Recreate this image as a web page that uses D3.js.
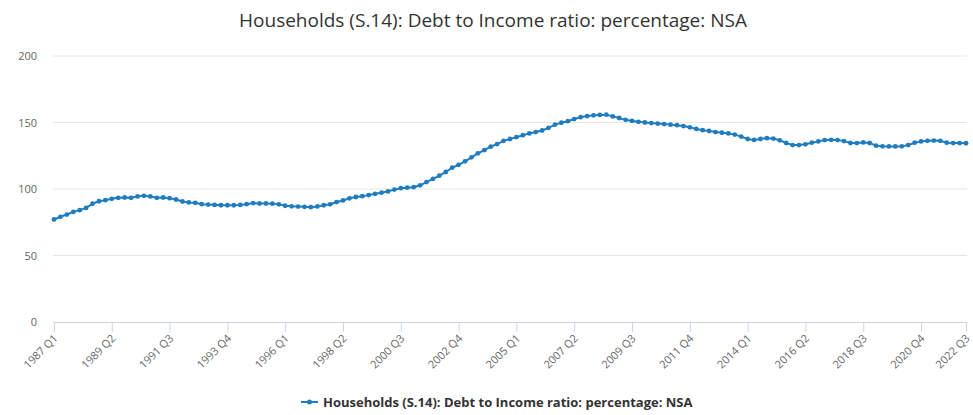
<!DOCTYPE html>
<html>
<head>
<meta charset="utf-8">
<script src="https://cdn.jsdelivr.net/npm/d3@7"></script>
<style>
  html, body { margin: 0; padding: 0; background: #fff; }
  svg { display: block; font-family: "Open Sans", "Noto Sans", sans-serif; }
</style>
</head>
<body>
<svg id="chart" width="973" height="415"></svg>
<script>
// Households (S.14): debt to income ratio, quarterly, 1987 Q1 – 2022 Q3
const firstYear = 1987;
const lastYear = 2022;
const lastQuarter = 3;

const seriesName = "Households (S.14): Debt to Income ratio: percentage: NSA";

const values = [
  77.1, 79.1, 80.8, 82.8, 84.1, 85.8, 88.9, 90.8, 91.6, 92.6,
  93.4, 93.6, 93.4, 94.4, 94.9, 94.4, 93.4, 93.6, 93.1, 92.1,
  90.6, 89.9, 89.6, 88.6, 88.3, 88.0, 87.8, 87.8, 87.8, 88.0,
  88.6, 89.4, 89.1, 89.1, 89.0, 88.5, 87.4, 87.0, 86.8, 86.6,
  86.3, 86.9, 87.8, 88.5, 90.2, 91.4, 93.0, 94.0, 94.6, 95.4,
  96.4, 97.2, 98.2, 99.6, 100.6, 101.0, 101.4, 102.8, 105.2, 107.6,
  110.0, 112.8, 116.0, 118.2, 120.8, 123.8, 126.8, 129.2, 131.8, 133.8,
  136.2, 137.6, 139.0, 140.4, 141.8, 142.8, 144.0, 146.0, 148.4, 149.8,
  151.0, 152.6, 154.0, 154.8, 155.4, 155.7, 155.9, 154.6, 153.4, 152.0,
  151.2, 150.5, 150.0, 149.6, 149.2, 148.8, 148.4, 148.0, 147.3, 146.4,
  145.2, 144.2, 143.6, 142.8, 142.3, 141.8, 140.9, 139.4, 137.6, 136.9,
  137.6, 138.2, 137.9, 136.6, 134.6, 133.0, 133.0, 133.6, 134.8, 135.8,
  136.8, 137.0, 136.8, 136.0, 134.6, 134.5, 135.0, 134.6, 132.6, 132.1,
  132.0, 132.0, 132.1, 133.0, 134.8, 135.8, 136.2, 136.4, 136.2, 134.8,
  134.5, 134.5, 134.4
];

const tickLabels = [
  "1987 Q1", "1989 Q2", "1991 Q3", "1993 Q4", "1996 Q1", "1998 Q2",
  "2000 Q3", "2002 Q4", "2005 Q1", "2007 Q2", "2009 Q3", "2011 Q4",
  "2014 Q1", "2016 Q2", "2018 Q3", "2020 Q4", "2022 Q3"
];

const yTicks = [0, 50, 100, 150, 200];

// quarter labels for every observation
const quarters = [];
for (let y = firstYear; y <= lastYear; y++) {
  for (let q = 1; q <= 4; q++) {
    if (y === lastYear && q > lastQuarter) break;
    quarters.push(y + " Q" + q);
  }
}
const data = quarters.map((q, i) => ({ q, v: values[i] }));

const svg = d3.select("#chart");
const lineColor = "#1f7cc0";
const labelColor = "#666666";

const x = d3.scalePoint().domain(quarters).range([54, 966]);
const y = d3.scaleLinear().domain([0, 200]).range([322, 56]);

// title
svg.append("text")
  .attr("x", 493).attr("y", 27)
  .attr("text-anchor", "middle")
  .attr("font-size", 19)
  .attr("fill", "#333")
  .text(seriesName);

// horizontal grid
svg.append("g")
  .selectAll("line")
  .data(yTicks.filter(t => t > 0))
  .join("line")
  .attr("x1", 53).attr("x2", 967)
  .attr("y1", d => y(d)).attr("y2", d => y(d))
  .attr("stroke", "#e6e6e6").attr("stroke-width", 1);

// y axis labels
const yAxis = d3.axisLeft(y).tickValues(yTicks).tickSize(0).tickPadding(0);
svg.append("g")
  .attr("transform", "translate(37,0)")
  .call(yAxis)
  .call(g => g.select(".domain").remove())
  .call(g => g.selectAll("text")
    .attr("font-family", "Open Sans, sans-serif")
    .attr("font-size", 11)
    .style("fill", labelColor));

// x axis
const xAxis = d3.axisBottom(x).tickValues(tickLabels).tickSize(10).tickSizeOuter(0);
const gx = svg.append("g")
  .attr("transform", `translate(0,${y(0)})`)
  .call(xAxis);
gx.select(".domain").attr("stroke", "#ccd6eb").attr("d", "M53.5,0.5H967.5");
gx.selectAll(".tick line").attr("stroke", "#ccd6eb");
gx.selectAll(".tick text")
  .attr("font-family", "Open Sans, sans-serif")
  .attr("font-size", 11)
  .style("fill", labelColor)
  .attr("text-anchor", "end")
  .attr("x", 0).attr("y", 0).attr("dy", null)
  .attr("transform", "translate(4,17) rotate(-45)");

// series line
const line = d3.line().x(d => x(d.q)).y(d => y(d.v)).curve(d3.curveLinear);
svg.append("path")
  .datum(data)
  .attr("fill", "none")
  .attr("stroke", lineColor)
  .attr("stroke-width", 2)
  .attr("d", line);

svg.append("g")
  .selectAll("circle")
  .data(data)
  .join("circle")
  .attr("cx", d => x(d.q)).attr("cy", d => y(d.v))
  .attr("r", 2.4)
  .attr("fill", lineColor);

// legend
const legend = svg.append("g").attr("transform", "translate(0,402)");
legend.append("line")
  .attr("x1", 301).attr("x2", 318).attr("y1", 0).attr("y2", 0)
  .attr("stroke", lineColor).attr("stroke-width", 2);
legend.append("circle").attr("cx", 309.5).attr("cy", 0).attr("r", 2.5).attr("fill", lineColor);
legend.append("text")
  .attr("x", 323).attr("y", 4.5)
  .attr("font-size", 13).attr("font-weight", "bold")
  .attr("fill", "#333")
  .text(seriesName);
</script>
</body>
</html>
